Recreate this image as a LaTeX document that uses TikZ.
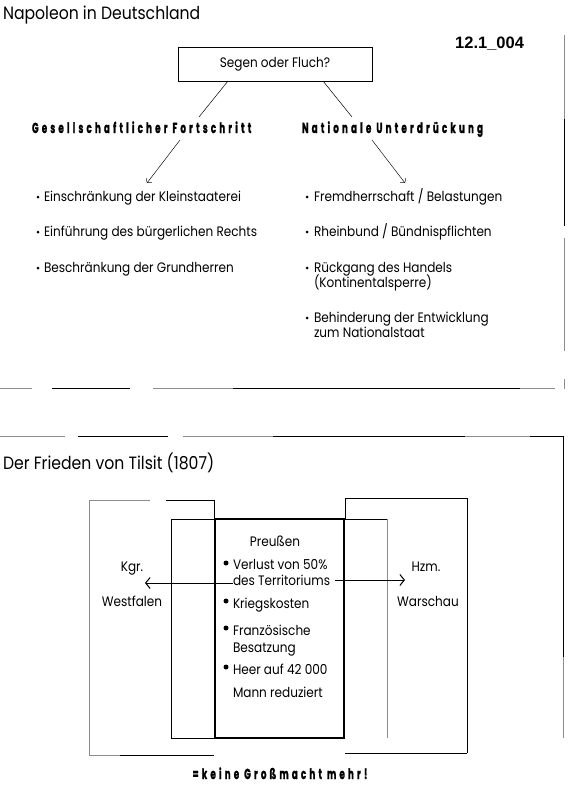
\documentclass[tikz,border=0pt]{standalone}
\usepackage{fontspec}
\setmainfont{Poppins}[FakeStretch=0.88]
\newfontfamily\headfont{Poppins}[FakeStretch=0.6,LetterSpace=22,FakeBold=1.2]
\newfontfamily\codefont{Liberation Sans}
\usetikzlibrary{arrows.meta}
\begin{document}
\begin{tikzpicture}[x=1pt,y=-1pt,
  every node/.style={inner sep=0pt,outer sep=0pt},
  titletext/.style={anchor=base west,font=\fontsize{17.8}{20}\selectfont},
  bodytext/.style={anchor=base west,font=\fontsize{13.7}{15}\selectfont},
  boxtext/.style={anchor=base west,font=\fontsize{13.7}{15}\selectfont},
  headtext/.style={anchor=base west,font=\headfont\bfseries\fontsize{14.5}{16}\selectfont},
  thinline/.style={line width=0.5pt},
  frameline/.style={line width=0.7pt},
  grayline/.style={line width=0.7pt,black!45},
  smallarr/.style={line width=0.45pt,-{Straight Barb[length=3pt,width=7pt]}},
  bigarr/.style={line width=0.9pt,-{Straight Barb[length=4.5pt,width=11pt,line width=1pt]}},
  dot/.style={circle,fill=black,inner sep=0pt,minimum size=3pt},
  bigdot/.style={circle,fill=black,inner sep=0pt,minimum size=5pt}]
\useasboundingbox (0,0) rectangle (570,789);

% ---------- upper part ----------
\node[titletext] (t1) at (3,20) {Napoleon in Deutschland};
\node[anchor=base east,font=\codefont\bfseries\fontsize{16.5}{18}\selectfont] (code) at (524,49) {12.1\_004};

% right margin line
\draw[grayline] (564,35) -- (564,119);
\draw[frameline] (564,119) -- (564,226);
\draw[grayline] (564,238) -- (564,351);
\draw[grayline] (564,379) -- (564,389);

\node[draw,thinline,minimum width=194pt,minimum height=34pt,font=\fontsize{13.7}{15}\selectfont] (q) at (275,64) {Segen oder Fluch?};

\node[headtext] (h1) at (32,133) {Gesellschaftlicher Fortschritt};
\node[headtext] (h2) at (302,133) {Nationale Unterdrückung};

\coordinate (la) at (199,117);
\coordinate (lb) at (180,140);
\coordinate (lc) at (147,183);
\coordinate (ra) at (352,117);
\coordinate (rb) at (372,140);
\coordinate (rc) at (405,183);
\draw[thinline] ([xshift=-47pt]q.south) -- (la);
\draw[smallarr] (lb) -- (lc);
\draw[thinline] ([xshift=48pt]q.south) -- (ra);
\draw[smallarr] (rb) -- (rc);

% left list
\node[dot] (d1) at (38,197) {};
\node[bodytext] (a1) at (44,201) {Einschränkung der Kleinstaaterei};
\node[dot] (d2) at (38,232) {};
\node[bodytext] (a2) at (44,236) {Einführung des bürgerlichen Rechts};
\node[dot] (d3) at (38,268) {};
\node[bodytext] (a3) at (44,272) {Beschränkung der Grundherren};

% right list
\node[dot] (e1) at (307,197) {};
\node[bodytext] (b1) at (314,201) {Fremdherrschaft / Belastungen};
\node[dot] (e2) at (307,232) {};
\node[bodytext] (b2) at (314,236) {Rheinbund / Bündnispflichten};
\node[dot] (e3) at (307,268) {};
\node[bodytext] (b3) at (314,272) {Rückgang des Handels};
\node[bodytext] (b3b) at (314,287) {(Kontinentalsperre)};
\node[dot] (e4) at (307,318) {};
\node[bodytext] (b4) at (314,322) {Behinderung der Entwicklung};
\node[bodytext] (b4b) at (314,337) {zum Nationalstaat};

% separator lines
\draw[grayline] (0,388) -- (32,388);
\draw[frameline] (52,388) -- (130,388);
\draw[grayline] (153,388) -- (233,388);
\draw[frameline] (233,388) -- (520,388);
\draw[grayline] (520,388) -- (555,388);

\draw[grayline] (0,436) -- (65,436);
\draw[frameline] (78,436) -- (168,436);
\draw[grayline] (183,436) -- (273,436);
\draw[frameline] (273,436) -- (465,436);
\draw[grayline] (465,436) -- (530,436);
\draw[frameline] (530,436) -- (563,436) -- (563,657);
\draw[grayline] (563,657) -- (563,738);

% ---------- lower part ----------
\node[titletext] (t2) at (3,469) {Der Frieden von Tilsit (1807)};

% outer left box
\draw[grayline] (89,500) -- (150,500);
\draw[frameline] (166,500) -- (214,500);
\draw[grayline] (89,500) -- (89,755) -- (120,755);
\draw[frameline] (120,755) -- (214,755);
\draw[frameline] (214,500) -- (214,519);
% inner wide box
\draw[frameline] (171,738) -- (171,519) -- (387,519);
\draw[grayline] (387,519) -- (387,738);
\draw[frameline] (171,738) -- (215,738);
% outer right box
\draw[frameline] (345,498) -- (467,498) -- (467,753);
\draw[frameline] (345,753) -- (467,753);
\draw[frameline] (345,498) -- (345,519);
% Preussen box
\draw[line width=1.6pt] (215,519) rectangle (344,738);

\node[anchor=base,font=\fontsize{13.7}{15}\selectfont] (pr) at (275,546) {Preußen};
\node[bigdot] (p1) at (226,563) {};
\node[boxtext] (v1) at (233,569) {Verlust von 50\%};
\node[boxtext] (v1b) at (233,585) {des Territoriums};
\node[bigdot] (p2) at (226,601) {};
\node[boxtext] (v2) at (233,608) {Kriegskosten};
\node[bigdot] (p3) at (226,628) {};
\node[boxtext] (v3) at (233,635) {Französische};
\node[boxtext] (v3b) at (233,652) {Besatzung};
\node[bigdot] (p4) at (226,667) {};
\node[boxtext] (v4) at (233,674) {Heer auf 42 000};
\node[boxtext] (v4b) at (233,697) {Mann reduziert};

\node[anchor=base,font=\fontsize{13.7}{15}\selectfont] (kgr) at (132,571) {Kgr.};
\node[anchor=base,font=\fontsize{13.7}{15}\selectfont] (wf) at (132,606) {Westfalen};
\node[anchor=base,font=\fontsize{13.7}{15}\selectfont] (hzm) at (426,571) {Hzm.};
\node[anchor=base,font=\fontsize{13.7}{15}\selectfont] (wa) at (428,606) {Warschau};

\coordinate (al) at (145,583);
\coordinate (ar) at (405,580);
\draw[bigarr] (v1b.west |- 0,583) -- (al);
\draw[bigarr] ([xshift=5pt]v1b.east |- 0,580) -- (ar);

\node[anchor=base,font=\headfont\bfseries\fontsize{14.5}{16}\selectfont] (gm) at (280,779) {=keine Großmacht mehr!};
\end{tikzpicture}
\end{document}
